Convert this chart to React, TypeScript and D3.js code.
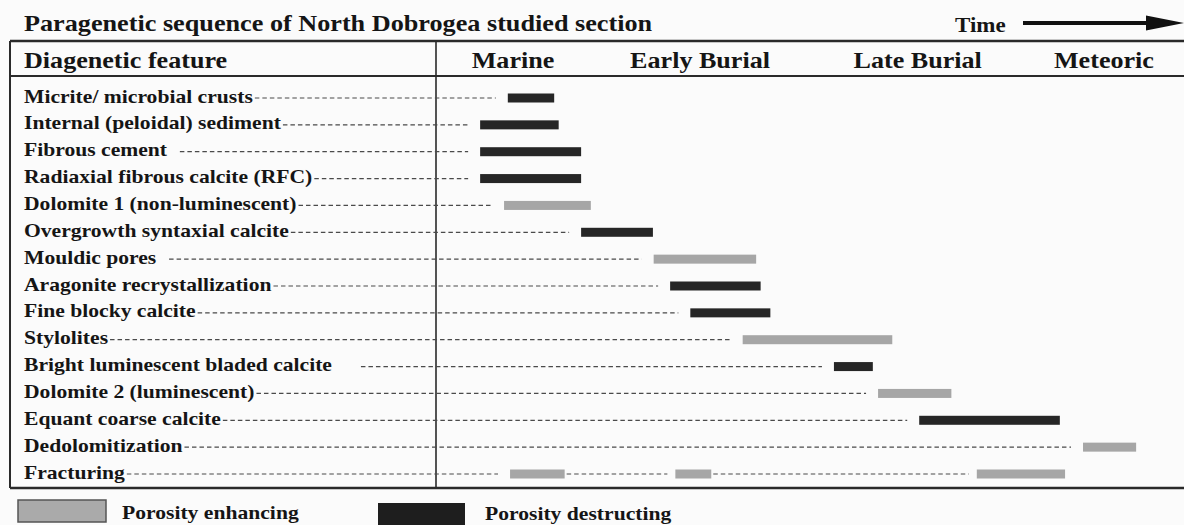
import React, { useEffect, useRef } from "react";
import * as d3 from "d3";

// rows of the paragenetic table, top to bottom
const features = [
  "Micrite/ microbial crusts",
  "Internal (peloidal) sediment",
  "Fibrous cement  ",
  "Radiaxial fibrous calcite (RFC)",
  "Dolomite 1 (non-luminescent)",
  "Overgrowth syntaxial calcite",
  "Mouldic pores  ",
  "Aragonite recrystallization",
  "Fine blocky calcite",
  "Stylolites",
  "Bright luminescent bladed calcite     ",
  "Dolomite 2 (luminescent)",
  "Equant coarse calcite",
  "Dedolomitization",
  "Fracturing",
];

// relative time (0 = start of Marine, 100 = right edge) of each occurrence
const spans: [number, number][][] = [
  [[9.6, 15.8]],
  [[5.9, 16.4]],
  [[5.9, 19.4]],
  [[5.9, 19.4]],
  [[9.1, 20.7]],
  [[19.4, 29.0]],
  [[29.1, 42.8]],
  [[31.3, 43.4]],
  [[34.0, 44.7]],
  [[41.0, 61.0]],
  [[53.2, 58.4]],
  [[59.1, 68.9]],
  [[64.6, 83.4]],
  [[86.5, 93.6]],
  [[9.9, 17.2], [32.0, 36.8], [72.3, 84.1]],
];

const effects = [
  "destructing", "destructing", "destructing", "destructing", "enhancing",
  "destructing", "enhancing", "destructing", "destructing", "enhancing",
  "destructing", "enhancing", "destructing", "enhancing", "enhancing",
];

const stages = ["Marine", "Early Burial", "Late Burial", "Meteoric"];
const stageCenters = [10.3, 35.3, 64.4, 89.3];

const legendItems = ["Porosity enhancing", "Porosity destructing"];

const W = 1184;
const H = 525;
const SX = 1.15; // the figure's type is a little wider than Times
const FONT = "'Liberation Serif', 'Times New Roman', serif";
const colors: Record<string, string> = { enhancing: "#a6a6a6", destructing: "#262626" };

const App = () => {
  const svgRef = useRef<SVGSVGElement>(null);

  useEffect(() => {
    const svg = d3.select(svgRef.current);
    svg.selectAll("*").remove();

    const left = 10;
    const top = 41;
    const headBottom = 76;
    const bottom = 488;
    const divider = 436;

    const x = d3.scaleLinear().domain([0, 100]).range([divider, W]);
    const y = d3.scalePoint<string>().domain(features).range([98, 474]);

    svg.append("rect").attr("width", W).attr("height", H).attr("fill", "#fbfbfb");

    const text = (
      g: d3.Selection<any, unknown, null, undefined>,
      str: string,
      tx: number,
      ty: number,
      size: number,
      anchor = "start"
    ) =>
      g
        .append("text")
        .attr("transform", `translate(${tx},${ty}) scale(${SX},1)`)
        .attr("text-anchor", anchor)
        .attr("font-family", FONT)
        .attr("font-weight", "bold")
        .attr("font-size", size)
        .attr("fill", "#151515")
        .style("white-space", "pre")
        .text(str);

    // title and time arrow
    text(svg, "Paragenetic sequence of North Dobrogea studied section", 24, 31, 22.8);
    text(svg, "Time", 955, 32, 20);
    svg
      .append("line")
      .attr("x1", 1023)
      .attr("x2", 1150)
      .attr("y1", 23)
      .attr("y2", 23)
      .attr("stroke", "#111")
      .attr("stroke-width", 4);
    svg
      .append("path")
      .attr("d", "M1146,15.5 L1184,23 L1146,30.5 Z")
      .attr("fill", "#111");

    // table frame
    const frame = svg.append("g").attr("stroke", "#2a2a2a");
    frame.append("line").attr("x1", left).attr("x2", W).attr("y1", top).attr("y2", top).attr("stroke-width", 2.5);
    frame.append("line").attr("x1", left).attr("x2", W).attr("y1", headBottom).attr("y2", headBottom).attr("stroke-width", 2);
    frame.append("line").attr("x1", left).attr("x2", W).attr("y1", bottom).attr("y2", bottom).attr("stroke-width", 2.5);
    frame.append("line").attr("x1", left).attr("x2", left).attr("y1", top).attr("y2", bottom).attr("stroke-width", 2);
    frame.append("line").attr("x1", divider).attr("x2", divider).attr("y1", top).attr("y2", bottom).attr("stroke-width", 1.6);

    // header row
    text(svg, "Diagenetic feature", 24, 68, 22.7);
    stages.forEach((s, i) => text(svg, s, x(stageCenters[i]), 68, 22.7, "middle"));

    // rows
    const rows = svg.append("g");
    features.forEach((f, i) => {
      const cy = y(f) as number;
      const label = text(rows, f, 24, cy + 4.5, 18.8);
      const labelEnd = 24 + (label.node() as SVGTextElement).getComputedTextLength() * SX + 2;

      const segs = spans[i];
      const dashes: [number, number][] = [[labelEnd, x(segs[0][0]) - 12]];
      for (let k = 1; k < segs.length; k++) dashes.push([x(segs[k - 1][1]) + 2, x(segs[k][0]) - 8]);

      dashes.forEach(([a, b]) =>
        rows
          .append("line")
          .attr("x1", a)
          .attr("x2", b)
          .attr("y1", cy)
          .attr("y2", cy)
          .attr("stroke", "#4a4a4a")
          .attr("stroke-width", 1.2)
          .attr("stroke-dasharray", "4.5 3")
      );

      segs.forEach(([a, b]) =>
        rows
          .append("rect")
          .attr("x", x(a))
          .attr("y", cy - 4.5)
          .attr("width", x(b) - x(a))
          .attr("height", 9)
          .attr("fill", colors[effects[i]])
      );
    });

    // legend
    const legend = svg.append("g");
    legend
      .append("rect")
      .attr("x", 18)
      .attr("y", 500)
      .attr("width", 88)
      .attr("height", 22)
      .attr("fill", "#aaaaaa")
      .attr("stroke", "#555")
      .attr("stroke-width", 1.5);
    text(legend, legendItems[0], 122, 519, 18.8);
    legend
      .append("rect")
      .attr("x", 378)
      .attr("y", 503)
      .attr("width", 87)
      .attr("height", 24)
      .attr("fill", "#1e1e1e");
    text(legend, legendItems[1], 485, 520, 18.8);

    return () => {
      svg.selectAll("*").remove();
    };
  }, []);

  return (
    <div style={{ position: "absolute", left: 0, top: 0 }}>
      <svg ref={svgRef} width={W} height={H} style={{ display: "block" }}></svg>
    </div>
  );
};

export default App;
